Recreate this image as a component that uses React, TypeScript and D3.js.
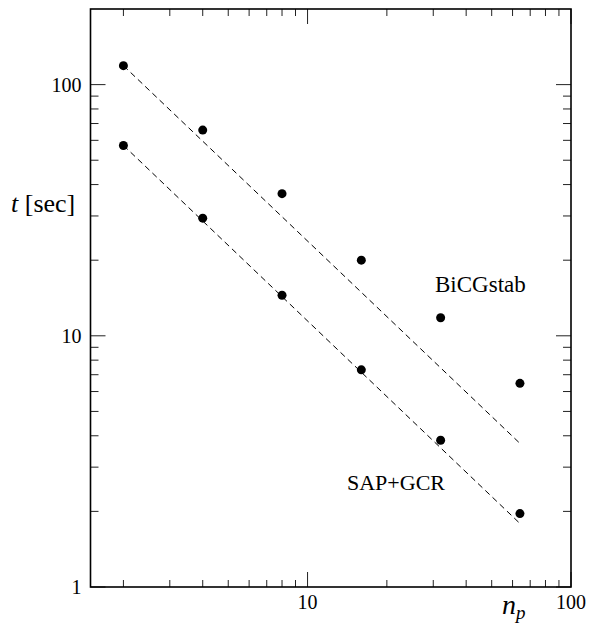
import React, { useEffect, useRef } from "react";
import * as d3 from "d3";

// processor counts
const nProcs = [2, 4, 8, 16, 32, 64];
// timings in seconds
const bicgstab = [119, 65.9, 36.8, 20.0, 11.8, 6.47];
const sapGcr = [57.2, 29.4, 14.5, 7.32, 3.84, 1.96];
// ideal scaling lines (endpoints)
const fitX = [2, 64];
const fitBicgstab = [119, 3.73];
const fitSapGcr = [57.3, 1.79];

const xTickLabels = [10, 100];
const yTickLabels = [1, 10, 100];

const W = 590;
const H = 624;
const FONT = "Liberation Serif, Times New Roman, Times, DejaVu Serif, serif";

export default function App() {
  const ref = useRef<SVGSVGElement | null>(null);

  useEffect(() => {
    if (!ref.current) return;
    const svg = d3.select(ref.current);
    svg.selectAll("*").remove();

    const left = 90.5, right = 571, top = 9, bottom = 587;

    const x = d3.scaleLog().domain([1.5, 100]).range([left, right]);
    const y = d3.scaleLog().domain([1, 200]).range([bottom, top]);

    const minorX: number[] = [];
    [1, 10].forEach((d) => {
      for (let k = 2; k <= 9; k++) {
        const v = d * k;
        if (v > 1.5 && v < 100) minorX.push(v);
      }
    });
    const minorY: number[] = [];
    [1, 10, 100].forEach((d) => {
      for (let k = 2; k <= 9; k++) {
        const v = d * k;
        if (v < 200) minorY.push(v);
      }
    });

    const ticks = svg.append("g").attr("stroke", "#222").attr("stroke-width", 1);

    // x ticks, bottom and top
    minorX.forEach((v) => {
      ticks.append("line").attr("x1", x(v)).attr("x2", x(v)).attr("y1", bottom).attr("y2", bottom - 7);
      ticks.append("line").attr("x1", x(v)).attr("x2", x(v)).attr("y1", top).attr("y2", top + 7);
    });
    xTickLabels.forEach((v) => {
      ticks.append("line").attr("x1", x(v)).attr("x2", x(v)).attr("y1", bottom).attr("y2", bottom - 15);
      ticks.append("line").attr("x1", x(v)).attr("x2", x(v)).attr("y1", top).attr("y2", top + 15);
    });

    // y ticks, left and right
    minorY.forEach((v) => {
      ticks.append("line").attr("x1", left).attr("x2", left + 8).attr("y1", y(v)).attr("y2", y(v));
      ticks.append("line").attr("x1", right).attr("x2", right - 8).attr("y1", y(v)).attr("y2", y(v));
    });
    yTickLabels.forEach((v) => {
      ticks.append("line").attr("x1", left).attr("x2", left + 15).attr("y1", y(v)).attr("y2", y(v));
      ticks.append("line").attr("x1", right).attr("x2", right - 15).attr("y1", y(v)).attr("y2", y(v));
    });

    // frame
    svg
      .append("rect")
      .attr("x", left)
      .attr("y", top)
      .attr("width", right - left)
      .attr("height", bottom - top)
      .attr("fill", "none")
      .attr("stroke", "#000")
      .attr("stroke-width", 1.6);

    // tick labels
    const labels = svg.append("g").style("font-family", FONT).attr("font-size", 20).attr("fill", "#000");
    xTickLabels.forEach((v) => {
      labels.append("text").attr("x", x(v)).attr("y", 609).attr("text-anchor", "middle").text(v);
    });
    yTickLabels.forEach((v) => {
      labels
        .append("text")
        .attr("x", left - 9)
        .attr("y", y(v) + 7)
        .attr("text-anchor", "end")
        .text(v);
    });

    // fit lines
    const line = d3
      .line<number>()
      .x((_, i) => x(fitX[i]))
      .y((d) => y(d));
    [fitBicgstab, fitSapGcr].forEach((s) => {
      svg
        .append("path")
        .attr("d", line(s))
        .attr("fill", "none")
        .attr("stroke", "#000")
        .attr("stroke-width", 1)
        .attr("stroke-dasharray", "6,4");
    });

    // points
    [bicgstab, sapGcr].forEach((s) => {
      svg
        .append("g")
        .selectAll("circle")
        .data(s)
        .enter()
        .append("circle")
        .attr("cx", (_, i) => x(nProcs[i]))
        .attr("cy", (d) => y(d))
        .attr("r", 4.5)
        .attr("fill", "#000");
    });

    // series labels
    svg
      .append("text")
      .attr("x", 435)
      .attr("y", 291.5)
      .style("font-family", FONT)
      .attr("font-size", 23)
      .text("BiCGstab");
    svg
      .append("text")
      .attr("x", 347)
      .attr("y", 490)
      .style("font-family", FONT)
      .attr("font-size", 22)
      .text("SAP+GCR");

    // axis titles
    const yt = svg
      .append("text")
      .attr("x", 11)
      .attr("y", 212)
      .style("font-family", FONT)
      .attr("font-size", 26);
    yt.append("tspan").attr("font-style", "italic").text("t");
    yt.append("tspan").text(" [sec]");

    const xt = svg
      .append("text")
      .attr("x", 502)
      .attr("y", 614)
      .style("font-family", FONT)
      .attr("font-size", 28);
    xt.append("tspan").attr("font-style", "italic").text("n");
    xt.append("tspan")
      .attr("font-style", "italic")
      .attr("font-size", 19)
      .attr("dy", 5)
      .text("p");
  }, []);

  return (
    <div style={{ position: "absolute", left: 0, top: 0, background: "#fff" }}>
      <svg ref={ref} width={W} height={H} style={{ display: "block" }} />
    </div>
  );
}
